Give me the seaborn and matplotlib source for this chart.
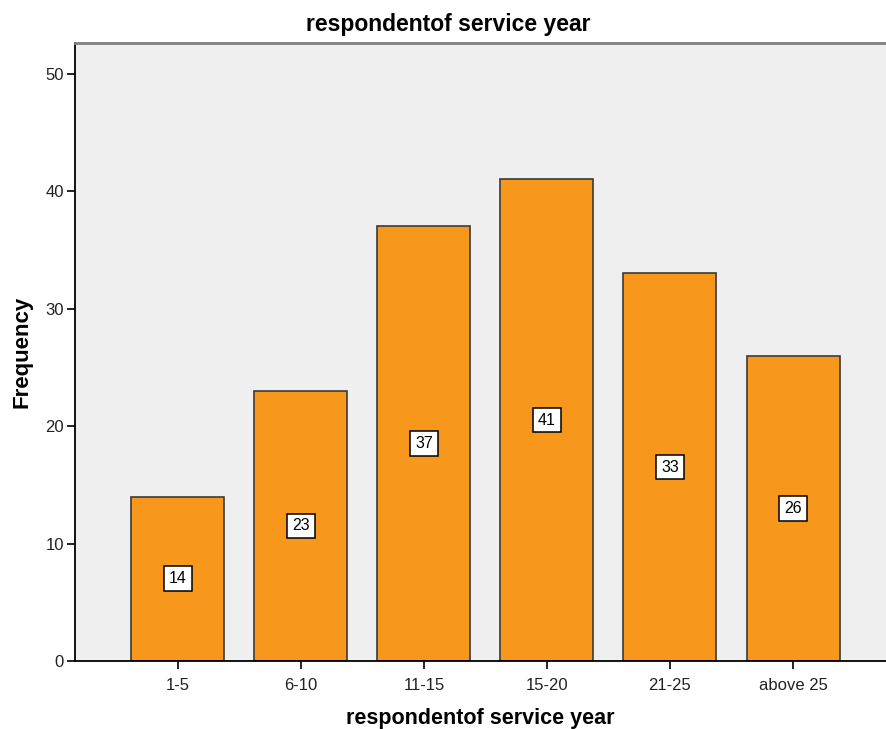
import matplotlib
matplotlib.use("Agg")
import matplotlib.pyplot as plt
import seaborn as sns
import pandas as pd

categories = ["1-5", "6-10", "11-15", "15-20", "21-25", "above 25"]
frequencies = [14, 23, 37, 41, 33, 26]
title_text = "respondentof service year"
x_label = "respondentof service year"
y_label = "Frequency"

sns.set_theme(style="white")
plt.rcParams['font.family'] = ['Liberation Sans', 'DejaVu Sans']

df = pd.DataFrame({"cat": categories, "freq": frequencies})

fig = plt.figure(figsize=(8.86, 7.29), dpi=100)
ax = fig.add_axes([75/886, 68/729, 1 - 75/886, (661-43)/729])
ax.set_facecolor("#EFEFEF")

sns.barplot(data=df, x="cat", y="freq", color="#F7981D", saturation=1,
            width=0.756, edgecolor="#3A3A3A", linewidth=1.2, ax=ax)

for i, v in enumerate(frequencies):
    ax.text(i, v / 2, str(v), ha="center", va="center", fontsize=11.5, color="black",
            bbox=dict(boxstyle="square,pad=0.3", facecolor="white", edgecolor="black", linewidth=1.1))

ax.set_ylim(0, 52.6)
ax.set_xlim(-0.837, 5.756)
ax.set_yticks([0, 10, 20, 30, 40, 50])
ax.tick_params(axis="both", which="both", length=6, width=1.2, color="black",
               labelsize=12, labelcolor="#222222", direction="out")
ax.tick_params(axis="x", pad=6)
ax.tick_params(axis="y", pad=2, left=True)
ax.tick_params(axis="x", bottom=True)

for s in ["left", "bottom"]:
    ax.spines[s].set_color("black")
    ax.spines[s].set_linewidth(1.3)
ax.spines["top"].set_color("#808080")
ax.spines["top"].set_linewidth(2)
ax.spines["right"].set_visible(False)

ax.set_xlabel(x_label, fontsize=15.5, fontweight="bold", labelpad=11, color="black")
ax.set_ylabel(y_label, fontsize=16, fontweight="bold", labelpad=9, color="black")
fig.text(448/886, 1 - 25/729, title_text, ha="center", va="center",
         fontsize=16.5, fontweight="bold", color="black")

fig.savefig("out.png", dpi=100)
